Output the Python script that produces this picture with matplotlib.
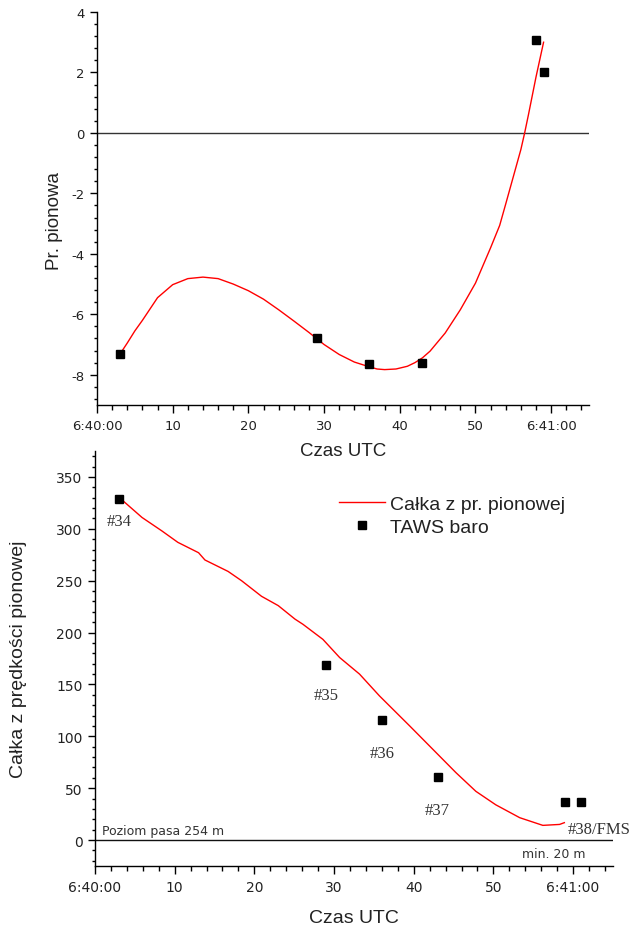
import matplotlib
matplotlib.use("Agg")
import matplotlib.pyplot as plt
from matplotlib.ticker import MultipleLocator, FixedLocator, FixedFormatter

plt.rcParams["axes.unicode_minus"] = False

# ---------------- data ----------------
# time in seconds after 6:40:00
top_pts_t = [3, 29, 36, 43, 58, 59]
top_pts_v = [-7.3, -6.78, -7.66, -7.61, 3.08, 2.03]

top_curve_t = [3, 4, 5, 6, 8, 10, 12, 14, 16, 18, 20, 22, 24, 26, 28, 30, 32, 34, 36,
               37, 38, 39.5, 41, 42, 43, 44, 46, 48, 50, 52, 53.2, 54, 55, 56, 56.5, 57, 58, 59]
top_curve_v = [-7.33, -6.95, -6.55, -6.2, -5.45, -5.02, -4.82, -4.77, -4.82, -5.0, -5.22,
               -5.5, -5.85, -6.22, -6.6, -7.0, -7.33, -7.58, -7.74, -7.81, -7.83, -7.81,
               -7.72, -7.6, -7.44, -7.22, -6.62, -5.85, -4.97, -3.8, -3.06, -2.35, -1.45,
               -0.55, 0.0, 0.6, 1.85, 3.0]

bot_pts_t = [3, 29, 36, 43, 59, 61]
bot_pts_h = [329, 169, 116, 61, 37, 37]
bot_pts_lbl = ["#34", "#35", "#36", "#37", "#38/FMS", ""]

bot_curve_t = [3.3, 5.9, 8.4, 10.4, 13.0, 13.8, 16.7, 18.4, 20.9, 23.0, 25.1, 26.1, 28.6,
               30.7, 33.2, 35.7, 39.5, 42.4, 45.3, 47.8, 50.3, 53.3, 56.2, 58.3, 58.9]
bot_curve_h = [328.5, 311, 298, 287, 277, 270, 259, 250, 235, 226, 213, 208, 193.5,
               176, 160, 139, 110, 87.5, 65, 47, 34, 21.6, 14.2, 15.1, 16.8]

x_tick_pos = [0, 10, 20, 30, 40, 50, 60]
x_tick_lbl = ["6:40:00", "10", "20", "30", "40", "50", "6:41:00"]

legend_line = "Całka z pr. pionowej"
legend_pts = "TAWS baro"

# ---------------- figure ----------------
fig = plt.figure(figsize=(6.34, 9.29), dpi=100)
SANS = ["Liberation Sans", "DejaVu Sans"]
SERIF = ["Liberation Serif", "DejaVu Serif"]
TICKF = ["DejaVu Sans"]


def style_axes(ax, tick_fs):
    for s in ("top", "right"):
        ax.spines[s].set_visible(False)
    for s in ("left", "bottom"):
        ax.spines[s].set_linewidth(1.0)
    ax.xaxis.set_major_locator(FixedLocator(x_tick_pos))
    ax.xaxis.set_major_formatter(FixedFormatter(x_tick_lbl))
    ax.xaxis.set_minor_locator(MultipleLocator(2))
    ax.tick_params(axis="x", which="major", direction="out", length=6, width=1.0, pad=4,
                   labelsize=tick_fs)
    ax.tick_params(axis="x", which="minor", direction="out", length=3.5, width=1.0)
    ax.tick_params(axis="y", which="major", direction="out", length=5, width=1.0, pad=4,
                   labelsize=tick_fs)
    ax.tick_params(axis="y", which="minor", direction="out", length=2.5, width=1.0)
    for lab in ax.get_xticklabels() + ax.get_yticklabels():
        lab.set_family(TICKF)
        lab.set_color("#222222")


# ---------- top panel ----------
ax1 = fig.add_axes([0.1530, 0.5630, 0.776, 0.423])
ax1.axhline(0, color="#333333", lw=1.0, zorder=1)
ax1.plot(top_curve_t, top_curve_v, color="red", lw=1.0, zorder=2)
ax1.plot(top_pts_t, top_pts_v, ls="none", marker="s", ms=5.5, color="black", zorder=3)
ax1.set_xlim(0, 65)
ax1.set_ylim(-9, 4)
ax1.yaxis.set_major_locator(MultipleLocator(2))
ax1.yaxis.set_minor_locator(MultipleLocator(0.4))
style_axes(ax1, 9.5)
ax1.set_xlabel("Czas UTC", family=SANS, fontsize=13.5, color="#222222")
ax1.set_ylabel("Pr. pionowa", family=SANS, fontsize=13.5, color="#222222")
ax1.xaxis.set_label_coords(0.5, -0.095)
ax1.yaxis.set_label_coords(-0.07, 0.47)

# ---------- bottom panel ----------
ax2 = fig.add_axes([0.1498, 0.0667, 0.817, 0.4467])
ax2.set_facecolor("none")
ax2.axhline(0, color="#111111", lw=1.0, zorder=1)
ln, = ax2.plot(bot_curve_t, bot_curve_h, color="red", lw=1.0, zorder=2, label=legend_line)
pts, = ax2.plot(bot_pts_t, bot_pts_h, ls="none", marker="s", ms=6, color="black",
                zorder=3, label=legend_pts)
ax2.set_xlim(0, 65)
ax2.set_ylim(-25, 375)
ax2.yaxis.set_major_locator(MultipleLocator(50))
ax2.yaxis.set_minor_locator(MultipleLocator(10))
style_axes(ax2, 10)
ax2.set_xlabel("Czas UTC", family=SANS, fontsize=14, color="#222222")
ax2.set_ylabel("Całka z prędkości pionowej", family=SANS, fontsize=14, color="#222222")
ax2.xaxis.set_label_coords(0.5, -0.103)
ax2.yaxis.set_label_coords(-0.132, 0.5)

# point labels (serif), placed below each marker
lbl_offsets = [(0, -16), (0, -22), (0, -24), (0, -24), (2, -20), (0, 0)]
for t, h, lbl, off in zip(bot_pts_t, bot_pts_h, bot_pts_lbl, lbl_offsets):
    if not lbl:
        continue
    ax2.annotate(lbl, (t, h), xytext=off, textcoords="offset points",
                 ha="left" if lbl.startswith("#38") else "center", va="center",
                 family=SERIF, fontsize=12, color="#333333")

ax2.text(0.9, 3, "Poziom pasa 254 m", ha="left", va="bottom", fontsize=9,
         family=["DejaVu Sans"], color="#333333")
ax2.text(61.6, -7, "min. 20 m", ha="right", va="top", fontsize=9,
         family=["DejaVu Sans"], color="#333333")

leg = ax2.legend(handles=[ln, pts], loc="upper left", bbox_to_anchor=(0.471, 0.893),
                 frameon=False, prop={"family": SANS, "size": 14}, numpoints=1,
                 handlelength=2.35, handletextpad=0.3, labelspacing=0.25,
                 borderpad=0, borderaxespad=0)
for t in leg.get_texts():
    t.set_color("#222222")

fig.savefig("out.png", dpi=100)
